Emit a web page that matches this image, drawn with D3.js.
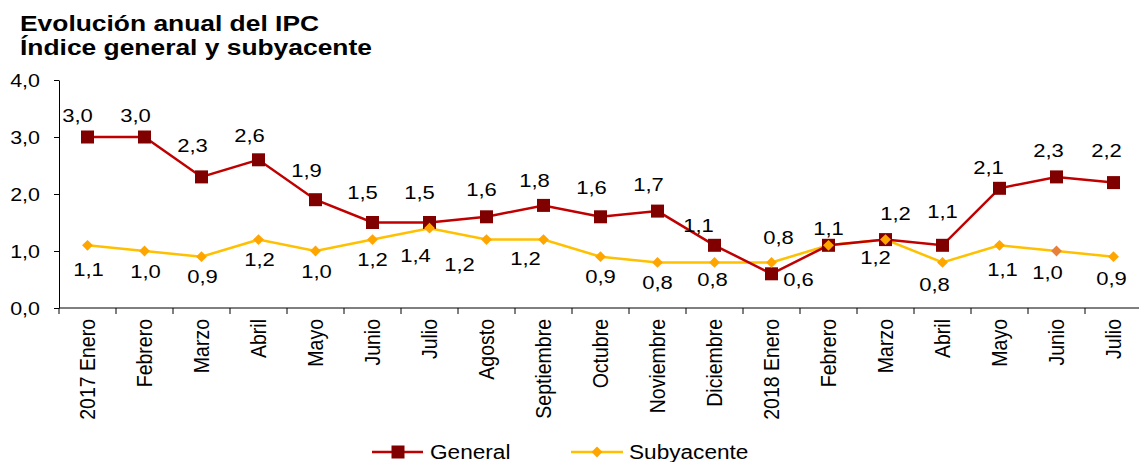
<!DOCTYPE html>
<html>
<head>
<meta charset="utf-8">
<script src="https://cdn.jsdelivr.net/npm/d3@7"></script>
<style>
  body { margin: 0; background: #fff; }
  svg { display: block; font-family: "Liberation Sans", Arial, sans-serif; }
</style>
</head>
<body>
<div id="chart"></div>
<script>
// Months (x categories)
const months = ["2017 Enero", "Febrero", "Marzo", "Abril", "Mayo", "Junio", "Julio", "Agosto",
  "Septiembre", "Octubre", "Noviembre", "Diciembre", "2018 Enero", "Febrero", "Marzo", "Abril",
  "Mayo", "Junio", "Julio"];
// Series values
const general = [3.0, 3.0, 2.3, 2.6, 1.9, 1.5, 1.5, 1.6, 1.8, 1.6, 1.7, 1.1, 0.6, 1.1, 1.2, 1.1, 2.1, 2.3, 2.2];
const subyacente = [1.1, 1.0, 0.9, 1.2, 1.0, 1.2, 1.4, 1.2, 1.2, 0.9, 0.8, 0.8, 0.8, 1.1, 1.2, 0.8, 1.1, 1.0, 0.9];
const yTicks = [0, 1, 2, 3, 4];

// data label offsets from each point [dx, dy to baseline]; null = label hidden
const genLabelOff = [[-10,-15],[-9,-15],[-9,-25],[-9,-18],[-9,-23],[-10,-24],[-10,-24],[-5,-21],[-9,-18],
  [-9,-23],[-9,-20],[-16,-13],[27,12],[0,-10],[10,-20],[0,-27],[-11,-14],[-8,-20],[-7,-26]];
const subLabelOff = [[1,31],[1,27],[1,26],[1,26],[1,27],[0,26],[-14,34],[-27,31],[-18,25],
  [0,26],[0,27],[-2,24],[7,-18],null,[-10,24],[-8,29],[3,31],[-9,28],[-2,28]];

const W = 1139, H = 462, SX = 1.16;
const x = d3.scaleBand().domain(d3.range(months.length)).range([59, 1142]);
const y = d3.scaleLinear().domain([0, 4]).range([308, 80]);
const fmt = v => d3.format(".1f")(v).replace(".", ",");
const cx = i => x(i) + x.bandwidth() / 2;

const svg = d3.select("#chart").append("svg").attr("width", W).attr("height", H);

// text stretched horizontally like the original
function txt(parent, tx, ty, s, size, anchor, extra, sx) {
  return parent.append("text")
    .attr("transform", `translate(${tx},${ty}) scale(${sx || SX},1)` + (extra || ""))
    .attr("text-anchor", anchor || "start").attr("font-size", size).attr("fill", "#000").text(s);
}

// Title
txt(svg, 20, 31, "Evolución anual del IPC", 22, "start", "", 1.2).attr("font-weight", "bold");
txt(svg, 20, 55, "Índice general y subyacente", 22, "start", "", 1.2).attr("font-weight", "bold");

// Y axis
const yAxis = svg.append("g").attr("transform", "translate(59,0)")
  .call(d3.axisLeft(y).tickValues(yTicks).tickFormat("").tickSize(5).tickSizeOuter(0));
yAxis.select(".domain").attr("stroke", "#000");
yAxis.selectAll("line").attr("stroke", "#000");
yTicks.forEach(t => txt(svg, 40, y(t) + 7, fmt(t), 18.5, "end"));

// X axis
const xg = svg.append("g").attr("transform", "translate(0,308)");
xg.append("line").attr("x1", 59).attr("x2", W).attr("y1", 0).attr("y2", 0).attr("stroke", "#000");
xg.selectAll(".xt").data(d3.range(months.length)).enter().append("line")
  .attr("x1", i => x(i)).attr("x2", i => x(i)).attr("y1", 0).attr("y2", 6).attr("stroke", "#000");
months.forEach((m, i) => txt(xg, cx(i) + 7, 11, m, 19.5, "end", " rotate(-90)"));

// Lines
const line = d3.line().x((d, i) => cx(i)).y(d => y(d));
svg.append("path").datum(subyacente).attr("d", line).attr("fill", "none")
  .attr("stroke", "#FFC000").attr("stroke-width", 2.5);
svg.append("path").datum(general).attr("d", line).attr("fill", "none")
  .attr("stroke", "#C00000").attr("stroke-width", 2.5);

// Markers
svg.selectAll(".sq").data(general).enter().append("rect")
  .attr("x", (d, i) => cx(i) - 6.5).attr("y", d => y(d) - 6.5)
  .attr("width", 13).attr("height", 13).attr("fill", "#800000");
const diamond = d3.symbol().type(d3.symbolDiamond2).size(75);
svg.selectAll(".dm").data(subyacente).enter().append("path")
  .attr("d", diamond)
  .attr("transform", (d, i) => `translate(${cx(i)},${y(d)})`)
  .attr("fill", (d, i) => i === 17 ? "#E8803A" : "#FFA500");

// Data labels
general.forEach((v, i) => {
  const o = genLabelOff[i];
  txt(svg, cx(i) + o[0], y(v) + o[1], fmt(v), 19, "middle");
});
subyacente.forEach((v, i) => {
  const o = subLabelOff[i];
  if (o) txt(svg, cx(i) + o[0], y(v) + o[1], fmt(v), 19, "middle");
});

// Legend
const lg = svg.append("g").attr("transform", "translate(0,452)");
lg.append("line").attr("x1", 372).attr("x2", 423).attr("y1", 0).attr("y2", 0).attr("stroke", "#C00000").attr("stroke-width", 2.5);
lg.append("rect").attr("x", 391.5).attr("y", -6.5).attr("width", 13).attr("height", 13).attr("fill", "#800000");
txt(lg, 430, 7, "General", 19.5);
lg.append("line").attr("x1", 571).attr("x2", 623).attr("y1", 0).attr("y2", 0).attr("stroke", "#FFC000").attr("stroke-width", 2.5);
lg.append("path").attr("d", diamond).attr("transform", "translate(597,0)").attr("fill", "#FFA500");
txt(lg, 629, 7, "Subyacente", 19.5);
</script>
</body>
</html>
